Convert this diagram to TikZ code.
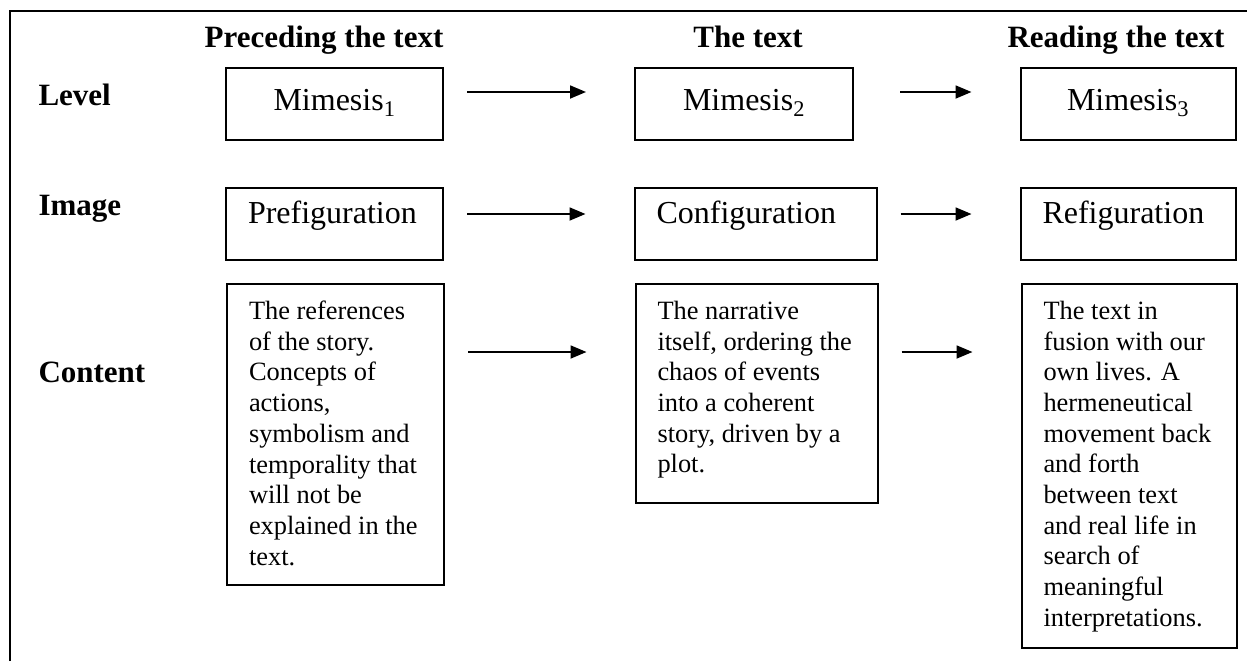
\documentclass[tikz,border=0pt]{standalone}
\usepackage{fontspec}
\setmainfont{Liberation Serif}
\usetikzlibrary{arrows.meta}
\tikzset{
    frame/.style={draw=black, line width=2.4pt},
    rowlabel/.style={anchor=base west, font=\fontsize{31}{36}\selectfont\bfseries},
    colhead/.style={anchor=base, font=\fontsize{31}{36}\selectfont\bfseries},
    levelbox/.style={draw=black, line width=2pt, minimum height=72pt, inner sep=0pt,
        text height=22pt, text depth=10pt, font=\fontsize{32}{38}\selectfont},
    imagebox/.style={draw=black, line width=2pt, minimum height=72pt, inner xsep=22pt, inner ysep=0pt,
        text height=22pt, text depth=24pt, align=left, font=\fontsize{32}{38}\selectfont},
    contentbox/.style={draw=black, line width=2pt, anchor=north west, inner xsep=22pt, inner ysep=0pt,
        font=\fontsize{26.4}{30.7}\selectfont},
    flow/.style={draw=black, line width=1.8pt, -{Triangle[length=16pt,width=13pt]},
        shorten <=23pt, shorten >=48pt},
}

\begin{document}
\begin{tikzpicture}[x=1pt, y=-1pt]
\useasboundingbox (0,0) rectangle (1247,661);
	% outer frame
	\draw[frame] (10,661) |- (1247,11);
	% column heads
	\node[colhead] (hpre) at (324,48) {Preceding the text};
	\node[colhead] (htext) at (748,48) {The text};
	\node[colhead] (hread) at (1116,48) {Reading the text};
	% row labels
	\node[rowlabel] (llevel) at (35,105) {Level};
	\node[rowlabel] (limage) at (35,215) {Image};
	\node[rowlabel] (lcontent) at (35,382) {Content};
	% level
	\node[levelbox, minimum width=217pt] (m1) at (334.5,104) {Mimesis\textsubscript{1}};
	\node[levelbox, minimum width=218pt] (m2) at (744,104) {Mimesis\textsubscript{2}};
	\node[levelbox, minimum width=215pt] (m3) at (1128,104) {Mimesis\textsubscript{3}};
	% image
	\node[imagebox, text width=173pt] (p1) at (334.5,224) {Prefiguration};
	\node[imagebox, text width=198pt] (p2) at (755.5,224) {Configuration};
	\node[imagebox, text width=171pt] (p3) at (1128,224) {Refiguration};
	% content
	\node[contentbox] (c1) at (226,283) {\parbox[c][301pt][t]{173pt}{\vspace*{17pt}The references\\
		of the story.\\ Concepts of\\ actions,\\ symbolism and\\ temporality that\\ will not be\\
		explained in the\\ text.}};
	\node[contentbox] (c2) at (634.5,283) {\parbox[c][219pt][t]{198pt}{\vspace*{17pt}The narrative\\
		itself, ordering the\\ chaos of events\\ into a coherent\\ story, driven by a\\ plot.}};
	\node[contentbox] (c3) at (1020.5,283) {\parbox[c][364pt][t]{171pt}{\vspace*{17pt}The text in\\
		fusion with our\\ own lives. A\\ hermeneutical\\ movement back\\ and forth\\ between text\\
		and real life in\\ search of\\ meaningful\\ interpretations.}};
	% arrows
	\draw[flow] ([yshift=12pt]m1.east) -- ([yshift=12pt]m2.west);
	\draw[flow, shorten <=46pt] ([yshift=12pt]m2.east) -- ([yshift=12pt]m3.west);
	\draw[flow] ([yshift=10pt]p1.east) -- ([yshift=10pt]p2.west);
	\draw[flow] ([yshift=10pt]p2.east) -- ([yshift=10pt]p3.west);
	\draw[flow] ([yshift=-69pt]c1.north east) -- ([yshift=-69pt]c2.north west);
	\draw[flow] ([yshift=-69pt]c2.north east) -- ([yshift=-69pt]c3.north west);
\end{tikzpicture}
\end{document}
